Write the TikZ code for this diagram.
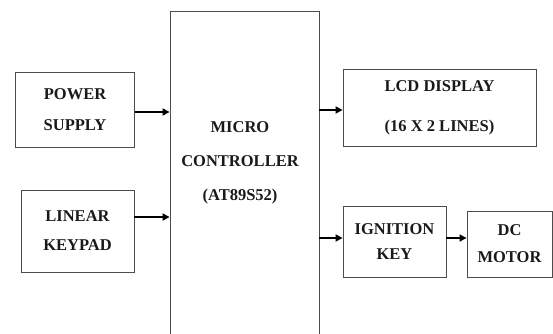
\documentclass[tikz,border=0pt]{standalone}
\usepackage{fontspec}
\setmainfont{Liberation Serif}
\usetikzlibrary{arrows.meta}
\begin{document}
\begin{tikzpicture}[x=1pt,y=1pt,
    blk/.style={draw=black!70, line width=0.9pt, inner sep=0pt},
    txt/.style={font=\bfseries\fontsize{16.5}{25}\selectfont, align=center, text=black!90}]
  \useasboundingbox (0,0) rectangle (553,333);
  \draw
    (75,223) node[blk, txt, minimum width=119, minimum height=75] (power) {POWER\\[6pt]SUPPLY}
    (77.5,102) node[blk, txt, minimum width=113, minimum height=82] (keypad) {LINEAR\\[4pt]KEYPAD}
    (244.5,156) node[blk, minimum width=149, minimum height=332] (micro) {}
    (240,170) node[txt] (mctext) {MICRO\\[9pt]CONTROLLER\\[9pt](AT89S52)}
    (439.5,225.5) node[blk, txt, minimum width=193, minimum height=77] (lcd) {LCD DISPLAY\\[15pt](16 X 2 LINES)}
    (394.5,91.5) node[blk, txt, minimum width=103, minimum height=71] (ign) {IGNITION\\KEY}
    (509.5,89) node[blk, txt, minimum width=85, minimum height=66] (dc) {DC\\[2pt]MOTOR};
  \begin{scope}[-{Triangle[length=7pt,width=7pt]}, line width=1.7pt]
    \draw ([yshift=-2]power.east) to ([yshift=-2]power.east -| micro.west);
    \draw ([yshift=14]keypad.east) to ([yshift=14]keypad.east -| micro.west);
    \draw ([yshift=-2.5]lcd.west -| micro.east) to ([yshift=-2.5]lcd.west);
    \draw ([yshift=3.5]ign.west -| micro.east) to ([yshift=3.5]ign.west);
    \draw ([yshift=3.5]ign.east) to ([yshift=3.5]ign.east -| dc.west);
  \end{scope}
\end{tikzpicture}
\end{document}
